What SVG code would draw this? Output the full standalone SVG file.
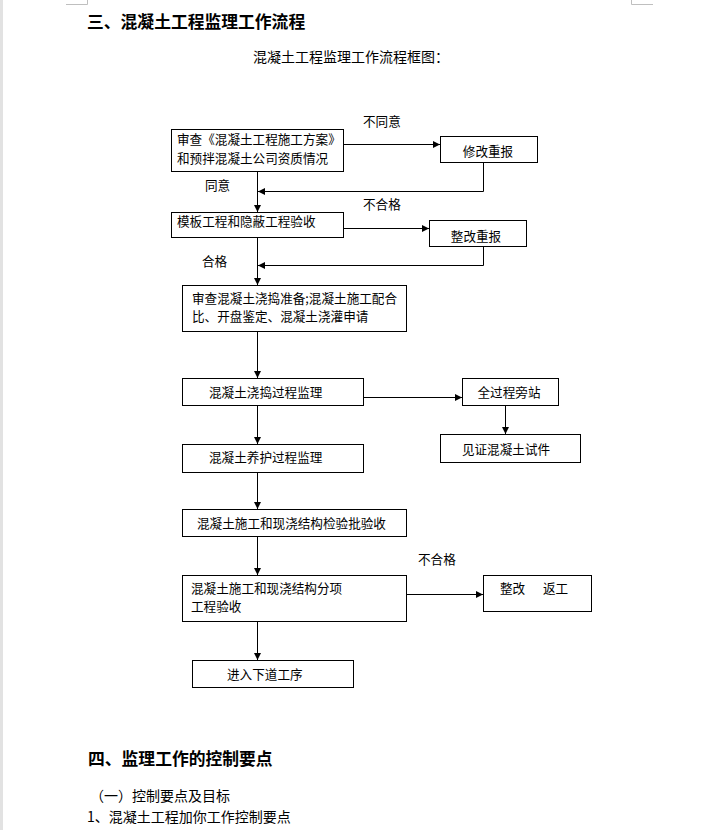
<svg xmlns="http://www.w3.org/2000/svg" width="716" height="830" viewBox="0 0 716 830">
<style>
text{font-family:"Noto Sans CJK SC","Noto Sans CJK JP",sans-serif;fill:#000;}
.t{font-size:12.6px;}
.m{text-anchor:middle;}
.h{font-size:16.8px;font-weight:bold;}
.p{font-size:14px;}
rect.b{fill:#fff;stroke:#000;stroke-width:1;}
.c path{fill:none;stroke:#000;stroke-width:1;}
.mark{fill:none;stroke:#bfbfbf;stroke-width:1;}
</style>
<defs>
<marker id="ah" markerUnits="userSpaceOnUse" markerWidth="7" markerHeight="7" refX="7" refY="3.5" orient="auto">
<path d="M0,0 L7,3.5 L0,7 z" fill="#000"/>
</marker>
</defs>
<rect x="0" y="0" width="716" height="830" fill="#fff"/>
<rect x="0" y="0" width="3" height="830" fill="#e2e2e2"/>
<path class="mark" d="M66,4.5 H87.5 V0"/>
<path class="mark" d="M631.5,0 V4.5 H653"/>

<text class="h" x="87" y="27.5">三、混凝土工程监理工作流程</text>
<text class="p" x="253" y="62">混凝土工程监理工作流程框图：</text>

<g class="c" id="connectors">
<path d="M344,144.5 H440" marker-end="url(#ah)"/>
<path d="M483.5,163 V191.5 H258" marker-end="url(#ah)"/>
<path d="M257.5,172 V212" marker-end="url(#ah)"/>
<path d="M344,228.5 H429" marker-end="url(#ah)"/>
<path d="M483.5,247 V265.5 H258" marker-end="url(#ah)"/>
<path d="M257.5,238 V285" marker-end="url(#ah)"/>
<path d="M257.5,332 V378" marker-end="url(#ah)"/>
<path d="M364,397.5 H462" marker-end="url(#ah)"/>
<path d="M505.5,406 V434" marker-end="url(#ah)"/>
<path d="M257.5,406 V444" marker-end="url(#ah)"/>
<path d="M257.5,473 V509" marker-end="url(#ah)"/>
<path d="M257.5,537 V575" marker-end="url(#ah)"/>
<path d="M407,594.5 H483" marker-end="url(#ah)"/>
<path d="M257.5,622 V660" marker-end="url(#ah)"/>
</g>

<g id="labels">
<text class="t" x="363" y="126">不同意</text>
<text class="t" x="205" y="190">同意</text>
<text class="t" x="363" y="209">不合格</text>
<text class="t" x="202" y="266">合格</text>
<text class="t" x="418" y="564">不合格</text>
</g>

<g id="n1"><rect class="b" x="171.5" y="129.5" width="172" height="42"/>
<text class="t" x="177" y="144">审查《混凝土工程施工方案》</text>
<text class="t" x="177" y="163">和预拌混凝土公司资质情况</text></g>
<g id="n_xg"><rect class="b" x="440.5" y="136.5" width="97" height="26"/>
<text class="t m" x="488" y="155.5">修改重报</text></g>
<g id="n2"><rect class="b" x="171.5" y="212.5" width="172" height="25"/>
<text class="t" x="177" y="226">模板工程和隐蔽工程验收</text></g>
<g id="n_zg"><rect class="b" x="429.5" y="220.5" width="97" height="26"/>
<text class="t m" x="476" y="241">整改重报</text></g>
<g id="n3"><rect class="b" x="182.5" y="285.5" width="224" height="46"/>
<text class="t" x="192" y="302.5">审查混凝土浇捣准备;混凝土施工配合</text>
<text class="t" x="192" y="321">比、开盘鉴定、混凝土浇灌申请</text></g>
<g id="n4"><rect class="b" x="182.5" y="378.5" width="181" height="27"/>
<text class="t" x="209" y="397">混凝土浇捣过程监理</text></g>
<g id="n_pz"><rect class="b" x="462.5" y="378.5" width="96" height="27"/>
<text class="t m" x="509" y="397">全过程旁站</text></g>
<g id="n_jz"><rect class="b" x="440.5" y="434.5" width="140" height="28"/>
<text class="t m" x="506" y="453.5">见证混凝土试件</text></g>
<g id="n5"><rect class="b" x="182.5" y="444.5" width="181" height="28"/>
<text class="t" x="209" y="462">混凝土养护过程监理</text></g>
<g id="n6"><rect class="b" x="182.5" y="509.5" width="224" height="27"/>
<text class="t" x="197" y="528">混凝土施工和现浇结构检验批验收</text></g>
<g id="n7"><rect class="b" x="182.5" y="575.5" width="224" height="46"/>
<text class="t" x="191" y="592.5">混凝土施工和现浇结构分项</text>
<text class="t" x="191" y="611">工程验收</text></g>
<g id="n_fg"><rect class="b" x="483.5" y="575.5" width="108" height="36"/>
<text class="t" x="500" y="592.5">整改</text>
<text class="t" x="543" y="592.5">返工</text></g>
<g id="n8"><rect class="b" x="192.5" y="660.5" width="161" height="27"/>
<text class="t" x="227" y="678.5">进入下道工序</text></g>

<text class="h" x="88" y="765">四、监理工作的控制要点</text>
<text class="p" x="90" y="801">（一）控制要点及目标</text>
<text class="p" x="87" y="822">1、混凝土工程加你工作控制要点</text>
</svg>
